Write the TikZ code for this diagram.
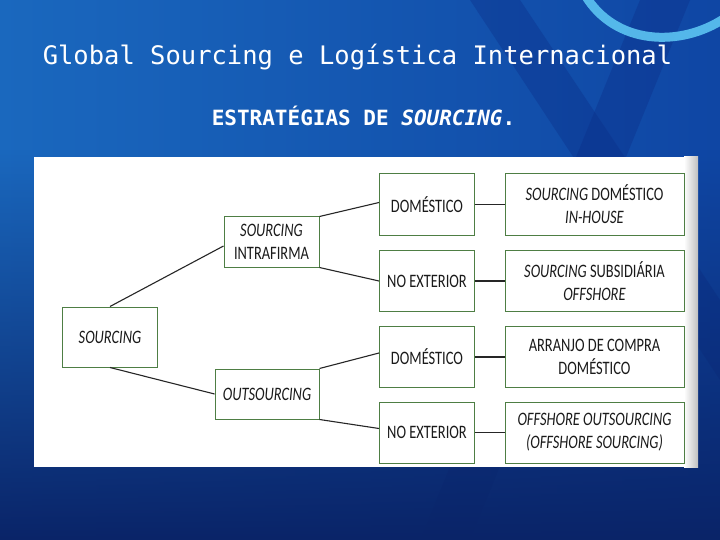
\documentclass[tikz,border=0pt]{standalone}
\usepackage{fontspec}
\newfontfamily\titlefont{DejaVu Sans Mono}
\newfontfamily\boxfont[FakeStretch=0.76]{Carlito}
\usetikzlibrary{calc, fadings}
\definecolor{bgleft}{HTML}{1A68BE}
\definecolor{bgmid}{HTML}{2288D6}
\definecolor{bgright}{HTML}{0F46A4}
\definecolor{bgbot}{HTML}{0A2468}
\definecolor{bgdark}{HTML}{0B2C86}
\definecolor{bgarc}{HTML}{5CC4F2}
\definecolor{boxgreen}{HTML}{4E7E44}
\definecolor{boxtext}{HTML}{1A1A1A}

\begin{document}
\begin{tikzpicture}[x=1pt, y=-1pt,
    tbox/.style={draw=boxgreen, line width=1pt, fill=white, align=center,
      inner sep=0pt, text=boxtext, font=\boxfont\fontsize{19}{23}\selectfont},
    link/.style={draw=black!85, line width=1.1pt}]
    \useasboundingbox (0, 0) rectangle (720, 540);
    \shade[left color=bgleft, middle color=bgmid, right color=bgright] (0, 0) rectangle (720, 540);
    \fill[bgdark, opacity=0.35] (470, 0) -- (520, 0) -- (720, 300) -- (720, 380) -- cycle;
    \fill[bgdark, opacity=0.35] (640, 0) -- (690, 0) -- (470, 540) -- (420, 540) -- cycle;
    \fill[bgbot, path fading=north] (0, 150) rectangle (720, 540);
    \draw[bgarc, line width=9pt, opacity=0.9] (585, -5) .. controls (615, 45) and (680, 48) .. (725, 18);
    \node[white, anchor=base, font=\titlefont\fontsize{25.5}{30}\selectfont] (title) at (357.5, 65)
      {Global Sourcing e Logística Internacional};
    \node[white, anchor=base, font=\titlefont\bfseries\fontsize{21}{25}\selectfont] (subtitle) at (363.5, 126)
      {ESTRATÉGIAS DE \textit{SOURCING}.};
    \fill[white] (34, 157) rectangle (698, 467);
    \shade[left color=white, right color=black!25] (684, 157) rectangle (698, 467);

    \node[tbox, minimum width=95pt, minimum height=60pt] (src) at (110, 337) {\textit{SOURCING}};
    \node[tbox, minimum width=95pt, minimum height=50pt] (intra) at (271.5, 242) {\textit{SOURCING}\\INTRAFIRMA};
    \node[tbox, minimum width=104pt, minimum height=50pt] (outs) at (267, 394) {\textit{OUTSOURCING}};
    \node[tbox, minimum width=95pt, minimum height=61pt] (dom1) at (427, 204.5) {DOMÉSTICO};
    \node[tbox, minimum width=95pt, minimum height=61pt] (ext1) at (427, 281) {NO EXTERIOR};
    \node[tbox, minimum width=95pt, minimum height=61pt] (dom2) at (427, 357) {DOMÉSTICO};
    \node[tbox, minimum width=95pt, minimum height=61pt] (ext2) at (427, 432.5) {NO EXTERIOR};
    \node[tbox, minimum width=179pt, minimum height=61pt] (res1) at (594.5, 204.5) {\textit{SOURCING} DOMÉSTICO\\\textit{IN-HOUSE}};
    \node[tbox, minimum width=179pt, minimum height=61pt] (res2) at (594.5, 281) {\textit{SOURCING} SUBSIDIÁRIA\\\textit{OFFSHORE}};
    \node[tbox, minimum width=179pt, minimum height=61pt] (res3) at (594.5, 357) {ARRANJO DE COMPRA\\DOMÉSTICO};
    \node[tbox, minimum width=179pt, minimum height=61pt] (res4) at (594.5, 432.5) {\textit{OFFSHORE OUTSOURCING}\\\textit{(OFFSHORE SOURCING)}};

    \draw[link] (src.north) -- ([yshift=-4pt]intra.west);
    \draw[link] (src.south) -- (outs.west);
    \draw[link] (intra.north east) -- ([yshift=2pt]dom1.west);
    \draw[link] (intra.south east) -- (ext1.west);
    \draw[link] (outs.north east) -- ([yshift=4pt]dom2.west);
    \draw[link] (outs.south east) -- ([yshift=4pt]ext2.west);
    \draw[link] (dom1) -- (res1);
    \draw[link] (ext1) -- (res2);
    \draw[link] (dom2) -- (res3);
    \draw[link] (ext2) -- (res4);
  \end{tikzpicture}
\end{document}
